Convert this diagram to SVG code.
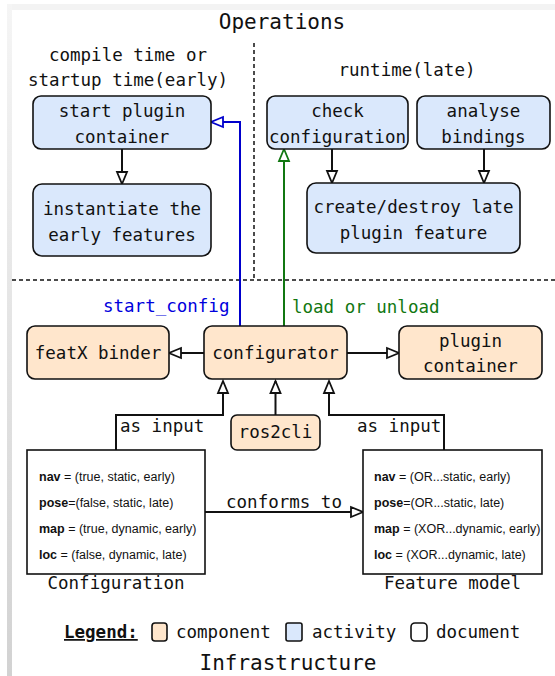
<svg xmlns="http://www.w3.org/2000/svg" width="555" height="676" viewBox="0 0 555 676">
<style>
text{font-family:"DejaVu Sans Mono","Liberation Mono",monospace;font-size:17.5px;fill:#111;text-anchor:middle}
.title{font-size:21px}
.act{fill:#dae8fc;stroke:#111;stroke-width:1.6}
.comp{fill:#ffe6cc;stroke:#111;stroke-width:1.6}
.doc{fill:#fff;stroke:#111;stroke-width:1.6}
.ln{fill:none;stroke:#111;stroke-width:2}
.dash{fill:none;stroke:#111;stroke-width:1.5;stroke-dasharray:4 3}
.dt{font-family:"Liberation Sans",Arial,sans-serif;font-size:12.5px;text-anchor:start}
.dt tspan.b{font-weight:bold}
</style>
<defs>
<linearGradient id="lg" x1="0" y1="0" x2="0" y2="1">
<stop offset="0" stop-color="#f5f5f5"/>
<stop offset="1" stop-color="#d2d2d2"/>
</linearGradient>
<marker id="ab" markerUnits="userSpaceOnUse" markerWidth="14" markerHeight="12" refX="12" refY="5" orient="auto" overflow="visible">
<path d="M0,0 L12,5 L0,10 z" fill="#fff" stroke="#111" stroke-width="1.8"/>
</marker>
<marker id="abl" markerUnits="userSpaceOnUse" markerWidth="14" markerHeight="12" refX="12" refY="5" orient="auto" overflow="visible">
<path d="M0,0 L12,5 L0,10 z" fill="#fff" stroke="#0000cc" stroke-width="1.8"/>
</marker>
<marker id="agr" markerUnits="userSpaceOnUse" markerWidth="14" markerHeight="12" refX="12" refY="5" orient="auto" overflow="visible">
<path d="M0,0 L12,5 L0,10 z" fill="#fff" stroke="#117711" stroke-width="1.8"/>
</marker>
</defs>
<rect width="555" height="676" fill="#fff"/>
<rect x="7" y="4" width="548" height="6" fill="#f3f3f3"/>
<rect x="7" y="4" width="5" height="672" fill="url(#lg)"/>

<text class="title" x="282" y="29">Operations</text>
<text class="title" x="288" y="670">Infrastructure</text>
<line class="dash" x1="254" y1="43" x2="254" y2="280"/>
<line class="dash" x1="12" y1="280" x2="555" y2="280"/>
<text x="128" y="61">compile time or</text>
<text x="128" y="86">startup time(early)</text>
<text x="407" y="76">runtime(late)</text>

<g id="connectors">
<path class="ln" d="M122,149 V184" marker-end="url(#ab)"/>
<path class="ln" d="M332,149 V183" marker-end="url(#ab)"/>
<path class="ln" d="M484,149 V183" marker-end="url(#ab)"/>
<path d="M240,326 V122 H211" fill="none" stroke="#0000cc" stroke-width="2" marker-end="url(#abl)"/>
<path d="M284,326 V149" fill="none" stroke="#117711" stroke-width="2" marker-end="url(#agr)"/>
<path class="ln" d="M204,353 H169" marker-end="url(#ab)"/>
<path class="ln" d="M347,353 H399" marker-end="url(#ab)"/>
<path class="ln" d="M116,451 V415 H223 V381" marker-end="url(#ab)"/>
<path class="ln" d="M275.5,415 V381" marker-end="url(#ab)"/>
<path class="ln" d="M444,451 V415 H329 V381" marker-end="url(#ab)"/>
<path class="ln" d="M205,512 H363" marker-end="url(#ab)"/>
<text x="103" y="312" style="fill:#0000dd;text-anchor:start">start_config</text>
<text x="292" y="313" style="fill:#117711;text-anchor:start">load or unload</text>
<text x="120" y="432" style="text-anchor:start">as input</text>
<text x="357" y="432" style="text-anchor:start">as input</text>
<text x="284" y="508">conforms to</text>
</g>

<g id="start-plugin-container">
<rect class="act" x="33" y="96" width="178" height="53" rx="8"/>
<text x="122" y="117">start plugin</text>
<text x="122" y="143">container</text>
</g>
<g id="instantiate-early">
<rect class="act" x="33" y="184" width="178" height="72" rx="9"/>
<text x="122" y="215">instantiate the</text>
<text x="122" y="241">early features</text>
</g>
<g id="check-configuration">
<rect class="act" x="267" y="96" width="141" height="53" rx="8"/>
<text x="337.5" y="117">check</text>
<text x="337.5" y="143">configuration</text>
</g>
<g id="analyse-bindings">
<rect class="act" x="417" y="96" width="133" height="53" rx="8"/>
<text x="483.5" y="117">analyse</text>
<text x="483.5" y="143">bindings</text>
</g>
<g id="create-destroy">
<rect class="act" x="307" y="183" width="213" height="70" rx="9"/>
<text x="413.5" y="213">create/destroy late</text>
<text x="413.5" y="239">plugin feature</text>
</g>
<g id="featx-binder">
<rect class="comp" x="27" y="326" width="142" height="53" rx="8"/>
<text x="98" y="359">featX binder</text>
</g>
<g id="configurator">
<rect class="comp" x="204" y="326" width="143" height="53" rx="8"/>
<text x="275.5" y="359">configurator</text>
</g>
<g id="plugin-container">
<rect class="comp" x="399" y="326" width="143" height="53" rx="8"/>
<text x="470.5" y="347">plugin</text>
<text x="470.5" y="372">container</text>
</g>
<g id="ros2cli">
<rect class="comp" x="231" y="415" width="89" height="35" rx="6"/>
<text x="275.5" y="438">ros2cli</text>
</g>
<g id="configuration">
<rect class="doc" x="27" y="450" width="178" height="124"/>
<text class="dt" x="39" y="481"><tspan class="b">nav</tspan> = (true, static, early)</text>
<text class="dt" x="39" y="507"><tspan class="b">pose</tspan>=(false, static, late)</text>
<text class="dt" x="39" y="533"><tspan class="b">map</tspan> = (true, dynamic, early)</text>
<text class="dt" x="39" y="559"><tspan class="b">loc</tspan> = (false, dynamic, late)</text>
<text x="116" y="589">Configuration</text>
</g>
<g id="feature-model">
<rect class="doc" x="363" y="450" width="179" height="124"/>
<text class="dt" x="374" y="481"><tspan class="b">nav</tspan> = (OR...static, early)</text>
<text class="dt" x="374" y="507"><tspan class="b">pose</tspan>=(OR...static, late)</text>
<text class="dt" x="374" y="533"><tspan class="b">map</tspan> = (XOR...dynamic, early)</text>
<text class="dt" x="374" y="559"><tspan class="b">loc</tspan> = (XOR...dynamic, late)</text>
<text x="452.5" y="589">Feature model</text>
</g>
<g id="legend">
<text x="64" y="638" style="text-anchor:start;font-weight:bold;text-decoration:underline">Legend:</text>
<rect class="comp" x="152" y="623" width="15" height="18" rx="3"/>
<text x="176" y="638" style="text-anchor:start">component</text>
<rect class="act" x="286" y="623" width="16" height="18" rx="2"/>
<text x="312" y="638" style="text-anchor:start">activity</text>
<rect class="doc" x="411" y="623" width="16" height="18" rx="4"/>
<text x="436" y="638" style="text-anchor:start">document</text>
</g>
</svg>
